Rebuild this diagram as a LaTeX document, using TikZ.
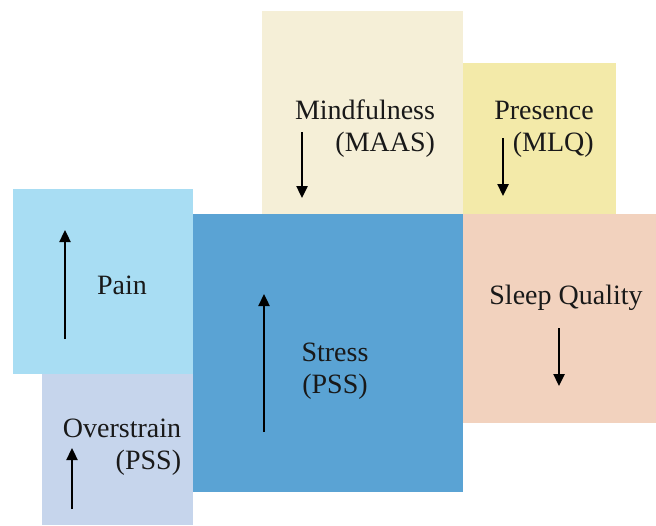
\documentclass[tikz,border=0pt]{standalone}
\usepackage{fontspec}
\setmainfont{Liberation Serif}
\usetikzlibrary{arrows.meta, positioning}
\usepackage{xcolor}
\definecolor{StressBlue}{RGB}{90,163,212}
\definecolor{PainBlue}{RGB}{168,221,243}
\definecolor{StrainLilac}{RGB}{198,213,236}
\definecolor{MindCream}{RGB}{245,239,215}
\definecolor{PresYellow}{RGB}{243,234,169}
\definecolor{SleepPeach}{RGB}{242,210,190}

\begin{document}
\begin{tikzpicture}[
          x=0.5pt, y=-0.5pt,
          area/.style={rectangle, inner sep=0pt, outer sep=0pt, draw=none},
          label/.style={font=\fontsize{14}{16}\selectfont, text=black!90, inner sep=0pt},
          trend/.style={-{Triangle[length=6pt, width=5.5pt]}, line width=1.2pt, black}
        ]
          \useasboundingbox (0,0) rectangle (656,525);
          % areas
          \node (stress) [area, fill=StressBlue, minimum width=135pt, minimum height=139pt, anchor=north west] at (193,214) {};
          \node (sleep) [area, fill=SleepPeach, minimum width=96.5pt, minimum height=104.5pt, right=0pt of stress.north east, anchor=north west] {};
          \node (mind) [area, fill=MindCream, minimum width=100.5pt, minimum height=101.5pt, above=0pt of stress.north east, anchor=south east] {};
          \node (pres) [area, fill=PresYellow, minimum width=76.5pt, minimum height=75.5pt, above=0pt of stress.north east, anchor=south west] {};
          \node (pain) [area, fill=PainBlue, minimum width=90pt, minimum height=92.5pt, anchor=north east] at (193,189) {};
          \node (over) [area, fill=StrainLilac, minimum width=75.5pt, minimum height=75.5pt, below=0pt of pain.south east, anchor=north east] {};
          % labels
          \node (mindtxt) [label, align=right] at (365,129) {Mindfulness\\(MAAS)};
          \node (prestxt) [label, align=right] at (544,129) {Presence\\(MLQ)};
          \node (paintxt) [label] at (122,285) {Pain};
          \node (stresstxt) [label, align=center] at (335,371) {Stress\\(PSS)};
          \node (sleeptxt) [label] at (566,298) {Sleep Quality};
          \node (overtxt) [label, align=right] at (122,447) {Overstrain\\(PSS)};
          % trends
          \coordinate (mindtop) at (302,132);
          \coordinate (mindbot) at (302,198);
          \coordinate (prestop) at (503,138);
          \coordinate (presbot) at (503,196);
          \coordinate (paintop) at (65,230);
          \coordinate (painbot) at (65,339);
          \coordinate (stresstop) at (264,294);
          \coordinate (stressbot) at (264,432);
          \coordinate (sleeptop) at (559,328);
          \coordinate (sleepbot) at (559,386);
          \coordinate (overtop) at (72,448);
          \coordinate (overbot) at (72,509);
          \draw [trend] (mindtop) -- (mindbot);
          \draw [trend] (prestop) -- (presbot);
          \draw [trend] (painbot) -- (paintop);
          \draw [trend] (stressbot) -- (stresstop);
          \draw [trend] (sleeptop) -- (sleepbot);
          \draw [trend] (overbot) -- (overtop);
        \end{tikzpicture}
\end{document}
